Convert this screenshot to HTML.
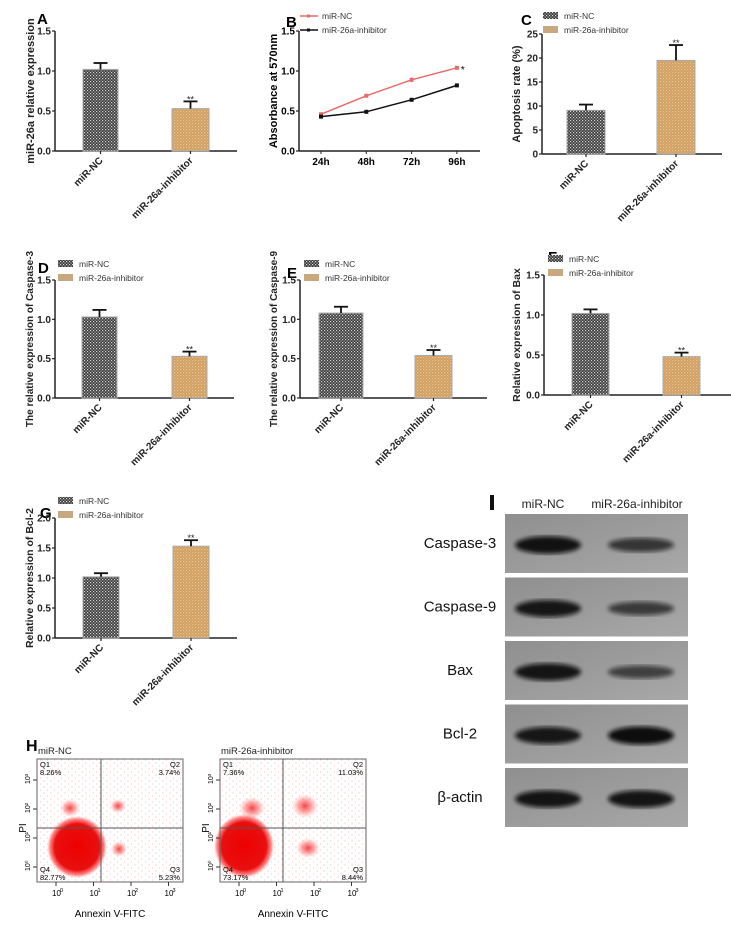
<!DOCTYPE html>
<html><head><meta charset="utf-8"><style>
html,body{margin:0;padding:0;background:#fff;}
svg{display:block;font-family:"Liberation Sans",Arial,sans-serif;}
</style></head><body>
<svg id="fig" width="731" height="934" viewBox="0 0 731 934" xmlns="http://www.w3.org/2000/svg">
<defs>
<pattern id="pNC" width="3" height="3" patternUnits="userSpaceOnUse"><rect width="3" height="3" fill="#3a3a3a"/><rect width="1.2" height="1.2" fill="#d8d8d8"/><rect x="1.5" y="1.5" width="1.2" height="1.2" fill="#bdbdbd"/></pattern>
<pattern id="pIN" width="3" height="3" patternUnits="userSpaceOnUse"><rect width="3" height="3" fill="#cf9d5e"/><rect width="1.2" height="1.2" fill="#e8c79c"/><rect x="1.5" y="1.5" width="1.2" height="1.2" fill="#e0b988"/></pattern>
<pattern id="pDots" width="7" height="6" patternUnits="userSpaceOnUse"><circle cx="2" cy="1" r="0.5" fill="#e33"/><circle cx="5.5" cy="4" r="0.5" fill="#e66"/></pattern>
<radialGradient id="gBlob"><stop offset="0" stop-color="#e00"/><stop offset="0.75" stop-color="#e81010"/><stop offset="0.9" stop-color="#f33" stop-opacity="0.6"/><stop offset="1" stop-color="#f66" stop-opacity="0"/></radialGradient>
<radialGradient id="gClus"><stop offset="0" stop-color="#e33" stop-opacity="0.9"/><stop offset="0.5" stop-color="#f66" stop-opacity="0.6"/><stop offset="1" stop-color="#f99" stop-opacity="0"/></radialGradient>
<linearGradient id="gBlot" x1="0" y1="0" x2="1" y2="1"><stop offset="0" stop-color="#8f8f8f"/><stop offset="1" stop-color="#a8a8a8"/></linearGradient>
<filter id="fBand"><feGaussianBlur stdDeviation="2.2"/></filter>
</defs>
<g id="root"></g>
</svg>
<script>
const groups = ["miR-NC","miR-26a-inhibitor"];
const aVals = [1.02,0.53], aErr = [1.10,0.62];
const cVals = [9.1,19.5], cErr = [10.3,22.7];
const dVals = [1.03,0.53], dErr = [1.12,0.59];
const eVals = [1.08,0.54], eErr = [1.16,0.61];
const fVals = [1.02,0.48], fErr = [1.07,0.53];
const gVals = [1.02,1.53], gErr = [1.08,1.63];
const times = ["24h","48h","72h","96h"];
const bNC = [0.46,0.69,0.89,1.04];
const bNCerr = [0.02,0.02,0.03,0.02];
const bInh = [0.43,0.49,0.64,0.82];
const bInhErr = [0.01,0.02,0.02,0.02];
const tick15 = ["0.0","0.5","1.0","1.5"];
const tick25 = ["0","5","10","15","20","25"];
const tick20 = ["0.0","0.5","1.0","1.5","2.0"];
const flowNC = ["8.26%","3.74%","5.23%","82.77%"];
const flowInh = ["7.36%","11.03%","8.44%","73.17%"];
const blotRows = ["Caspase-3","Caspase-9","Bax","Bcl-2","β-actin"];
const blotNC = [0.95,0.9,0.92,0.9,0.92];
const blotInh = [0.6,0.55,0.5,1.0,0.92];

const NS="http://www.w3.org/2000/svg";
const root=document.getElementById('root');
function el(tag,attrs,parent,text){const e=document.createElementNS(NS,tag);for(const k in attrs)e.setAttribute(k,attrs[k]);if(text!==undefined)e.textContent=text;(parent||root).appendChild(e);return e;}

function barPanel(c){
  const g=el('g',{});
  
  
  const y=v=>c.y0-v/c.max*(c.y0-c.yTop);
  const lab=el('text',{x:c.lx,y:c.ly,'font-size':15,'font-weight':'bold'},g,c.label);
  
  
  el('line',{x1:c.ax,y1:c.yTop,x2:c.ax,y2:c.y0+0.5,stroke:'#222','stroke-width':1.5},g);
  el('line',{x1:c.ax,y1:c.y0,x2:c.xEnd,y2:c.y0,stroke:'#222','stroke-width':1.5},g);
  c.ticks.forEach((t,i)=>{const v=parseFloat(t);const ty=y(v);
    el('line',{x1:c.ax-3,y1:ty,x2:c.ax,y2:ty,stroke:'#222','stroke-width':1.2},g);
    const tl=el('text',{x:c.ax-4,y:ty+3.5,'font-size':10,'font-weight':'bold','text-anchor':'end',fill:'#222'},g,t);
    
    
  });
  const cy=(c.yTop+c.y0)/2+c.tdy;
  const tt=el('text',{x:c.tx,y:cy,'font-size':c.tfs||11,'font-weight':'bold','text-anchor':'middle',fill:'#222',transform:`rotate(-90 ${c.tx} ${cy})`},g,c.title);
  
  
  c.vals.forEach((v,i)=>{const [x0,x1]=c.bars[i];const cx=(x0+x1)/2;
    const r=el('rect',{x:x0,y:y(v),width:x1-x0,height:c.y0-y(v),fill:i?'url(#pIN)':'url(#pNC)',stroke:'#aaa','stroke-width':1},g);
    
    
    el('line',{x1:cx,y1:y(v),x2:cx,y2:y(c.errs[i]),stroke:'#111','stroke-width':1.8},g);
    el('line',{x1:cx-7,y1:y(c.errs[i]),x2:cx+7,y2:y(c.errs[i]),stroke:'#111','stroke-width':1.8},g);
    if(i===1){const s=el('text',{x:cx,y:y(c.errs[i])+1,'font-size':9,'text-anchor':'middle',fill:'#222'},g,'**');
      
      }
    el('line',{x1:cx,y1:c.y0,x2:cx,y2:c.y0+3,stroke:'#222','stroke-width':1.2},g);
    const xl=el('text',{x:cx+3,y:c.y0+10,'font-size':10,'font-weight':'bold','text-anchor':'end',fill:'#222',transform:`rotate(-45 ${cx+3} ${c.y0+10})`},g,groups[i]);
    
    
  });
  if(c.leg){groups.forEach((gname,i)=>{const ly=c.leg[1]+i*14;
    const sw=el('rect',{x:c.leg[0],y:ly-4,width:15,height:7,fill:i?'#c9a87e':'url(#pNC)'},g);
    
    
    const lt=el('text',{x:c.leg[0]+21,y:ly+3,'font-size':8.5,fill:'#333'},g,gname);
    
    });}
}

barPanel({label:'A',lx:37,ly:24,ax:55,y0:151,yTop:31,max:1.5,xEnd:237,ticks:tick15,title:'miR-26a relative expression',tx:34,tdy:0,vals:aVals,errs:aErr,bars:[[83,118],[172,209]]});
barPanel({label:'C',lx:521,ly:25,ax:542,y0:154,yTop:34,max:25,xEnd:722,ticks:tick25,title:'Apoptosis rate (%)',tx:520,tdy:0,vals:cVals,errs:cErr,bars:[[567,605],[657,695]],leg:[543,16]});
barPanel({label:'D',lx:38,ly:273,ax:55,y0:398,yTop:280,max:1.5,xEnd:234,ticks:tick15,title:'The relative expression of Caspase-3',tx:33,tdy:0,tfs:10,vals:dVals,errs:dErr,bars:[[82,117],[172,207]],leg:[58,264]});
barPanel({label:'E',lx:287,ly:278,ax:300,y0:398,yTop:280,max:1.5,xEnd:487,ticks:tick15,title:'The relative expression of Caspase-9',tx:277,tdy:0,tfs:10,vals:eVals,errs:eErr,bars:[[319,363],[415,452]],leg:[304,264]});
barPanel({label:'F',lx:548,ly:262,ax:544,y0:395,yTop:275,max:1.5,xEnd:731,ticks:tick15,title:'Relative expression of Bax',tx:520,tdy:0,tfs:10.5,vals:fVals,errs:fErr,bars:[[572,609],[663,700]],leg:[548,259]});
barPanel({label:'G',lx:40,ly:518,ax:55,y0:638,yTop:518,max:2.0,xEnd:237,ticks:tick20,title:'Relative expression of Bcl-2',tx:33,tdy:0,tfs:10.5,vals:gVals,errs:gErr,bars:[[83,119],[173,209]],leg:[58,501]});

// Panel B line chart
(function(){
  const g=el('g',{});
  
  
  const ax=299,y0=151,yTop=31,max=1.5,x0=321,dx=45.3;
  const y=v=>y0-v/max*(y0-yTop), x=i=>x0+i*dx;
  const lab=el('text',{x:286,y:27,'font-size':15,'font-weight':'bold'},g,'B');
  
  
  el('line',{x1:ax,y1:yTop,x2:ax,y2:y0,stroke:'#222','stroke-width':1.5},g);
  el('line',{x1:ax,y1:y0,x2:480,y2:y0,stroke:'#222','stroke-width':1.5},g);
  tick15.forEach(t=>{const ty=y(parseFloat(t));
    el('line',{x1:ax-3,y1:ty,x2:ax,y2:ty,stroke:'#222','stroke-width':1.2},g);
    const tl=el('text',{x:ax-4,y:ty+3.5,'font-size':10,'font-weight':'bold','text-anchor':'end'},g,t);
    
    });
  times.forEach((t,i)=>{el('line',{x1:x(i),y1:y0,x2:x(i),y2:y0+3,stroke:'#222'},g);
    const tl=el('text',{x:x(i),y:y0+14,'font-size':10,'font-weight':'bold','text-anchor':'middle'},g,t);
    
    });
  const tt=el('text',{x:277,y:91,'font-size':11,'font-weight':'bold','text-anchor':'middle',transform:'rotate(-90 277 91)'},g,'Absorbance at 570nm');
  
  
  [[bNC,bNCerr,'#e86a6a'],[bInh,bInhErr,'#111']].forEach(([vals,errs,col],si)=>{
    const p=el('polyline',{points:vals.map((v,i)=>x(i)+','+y(v)).join(' '),fill:'none',stroke:col,'stroke-width':1.5},g);
    
    
    vals.forEach((v,i)=>{
      el('line',{x1:x(i),y1:y(v+errs[i]),x2:x(i),y2:y(v-errs[i]),stroke:col,'stroke-width':1},g);
      const m=el('rect',{x:x(i)-2,y:y(v)-2,width:4,height:4,fill:col},g);
      
      
    });
  });
  const st=el('text',{x:x(3)+4,y:y(bNC[3])+5,'font-size':10},g,'*');
  
  
  ['#e86a6a','#111'].forEach((col,i)=>{const ly=16+i*14;
    el('line',{x1:300,y1:ly,x2:318,y2:ly,stroke:col,'stroke-width':1.5},g);
    el('rect',{x:307,y:ly-1.5,width:3,height:3,fill:col},g);
    const lt=el('text',{x:322,y:ly+3,'font-size':8.5,fill:'#333'},g,groups[i]);
    
    });
})();

// Panel H flow
(function(){
  const g=el('g',{});
  
  
  const lab=el('text',{x:26,y:751,'font-size':16,'font-weight':'bold'},g,'H');
  
  
  const plots=[{x0:37,x1:183,vx:101,t:'miR-NC',q:flowNC,blob:[77,847,30,31],cl:[[70,808,10,9],[118,806,8,7],[119,849,8,8]]},
               {x0:220,x1:366,vx:283,t:'miR-26a-inhibitor',q:flowInh,blob:[244,846,30,32],cl:[[252,808,13,11],[305,806,13,12],[308,848,12,10]]}];
  const yT=759,yB=882,hy=828;
  plots.forEach(p=>{
    const t=el('text',{x:p.x0+1,y:754,'font-size':9.5,fill:'#222'},g,p.t);
    
    
    el('rect',{x:p.x0,y:yT,width:p.x1-p.x0,height:yB-yT,fill:'url(#pDots)',opacity:0.55},g);
    p.cl.forEach(c=>el('ellipse',{cx:c[0],cy:c[1],rx:c[2],ry:c[3],fill:'url(#gClus)'},g));
    const b=el('ellipse',{cx:p.blob[0],cy:p.blob[1],rx:p.blob[2],ry:p.blob[3],fill:'url(#gBlob)'},g);
    
    
    el('rect',{x:p.x0,y:yT,width:p.x1-p.x0,height:yB-yT,fill:'none',stroke:'#666','stroke-width':1},g);
    el('line',{x1:p.vx,y1:yT,x2:p.vx,y2:yB,stroke:'#555'},g);
    el('line',{x1:p.x0,y1:hy,x2:p.x1,y2:hy,stroke:'#555'},g);
    const fs=7.5;
    el('text',{x:p.x0+3,y:yT+8,'font-size':fs},g,'Q1');
    el('text',{x:p.x0+3,y:yT+16,'font-size':fs},g,p.q[0]);
    el('text',{x:p.x1-3,y:yT+8,'font-size':fs,'text-anchor':'end'},g,'Q2');
    el('text',{x:p.x1-3,y:yT+16,'font-size':fs,'text-anchor':'end'},g,p.q[1]);
    el('text',{x:p.x1-3,y:yB-10,'font-size':fs,'text-anchor':'end'},g,'Q3');
    el('text',{x:p.x1-3,y:yB-2,'font-size':fs,'text-anchor':'end'},g,p.q[2]);
    el('text',{x:p.x0+3,y:yB-10,'font-size':fs},g,'Q4');
    el('text',{x:p.x0+3,y:yB-2,'font-size':fs},g,p.q[3]);
    [0,1,2,3].forEach(k=>{const tx=p.x0+19+k*37.5;
      el('line',{x1:tx,y1:yB,x2:tx,y2:yB+4,stroke:'#333'},g);
      el('text',{x:tx-4,y:yB+14,'font-size':8},g,'10');
      el('text',{x:tx+4,y:yB+10,'font-size':5.5},g,String(k));
      const ty=yB-15-k*29;
      el('line',{x1:p.x0-4,y1:ty,x2:p.x0,y2:ty,stroke:'#333'},g);
      el('text',{x:p.x0-7,y:ty+4,'font-size':7,transform:`rotate(-90 ${p.x0-7} ${ty+4})`},g,'10'+['⁰','¹','²','³'][k]);
    });
    const xt=el('text',{x:(p.x0+p.x1)/2,y:917,'font-size':10,'text-anchor':'middle'},g,'Annexin V-FITC');
    
    
    const yt=el('text',{x:p.x0-15,y:hy+4,'font-size':10,'text-anchor':'middle',transform:`rotate(-90 ${p.x0-15} ${hy})`},g,'PI');
    
    
  });
})();

// Panel I western blot
(function(){
  const g=el('g',{});
  
  
  el('rect',{x:490,y:495,width:4,height:15,fill:'#111'},g);
  const h1=el('text',{x:543,y:508,'font-size':12,'text-anchor':'middle',fill:'#222'},g,groups[0]);
  
  
  const h2=el('text',{x:637,y:508,'font-size':12,'text-anchor':'middle',fill:'#222'},g,groups[1]);
  
  
  blotRows.forEach((name,i)=>{const y0=514+i*63.5;
    const r=el('rect',{x:505,y:y0,width:183,height:59,fill:'url(#gBlot)'},g);
    
    
    const l=el('text',{x:460,y:y0+34,'font-size':15,'text-anchor':'middle',fill:'#111'},g,name);
    
    
    [[548,blotNC[i]],[641,blotInh[i]]].forEach(([cx,v])=>{
      const b=el('ellipse',{cx:cx,cy:y0+31,rx:33,ry:4+5*v,fill:'#0a0a0a',opacity:0.3+0.7*v,filter:'url(#fBand)'},g);
      
      
    });
  });
})();
</script>
</body></html>
